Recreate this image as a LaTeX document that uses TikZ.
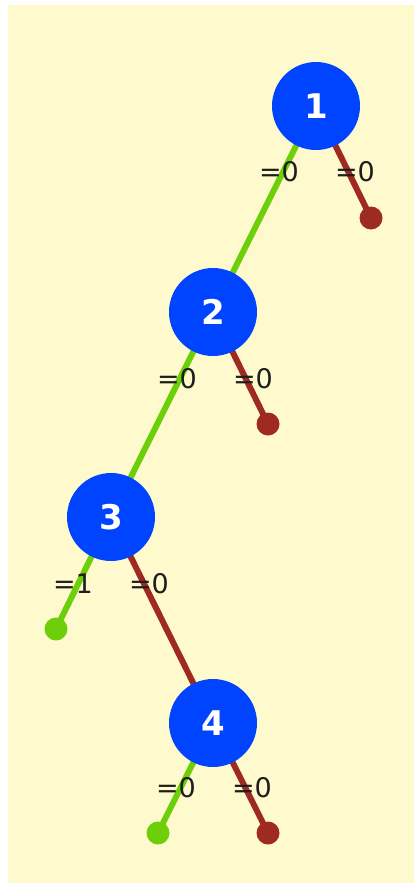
\documentclass[tikz,border=0pt]{standalone}
\usepackage{fontspec}
\setmainfont{DejaVu Sans}
\definecolor{bgyellow}{HTML}{FEFACD}
\definecolor{nodeblue}{HTML}{0044FF}
\definecolor{edgegreen}{HTML}{6CCF0A}
\definecolor{edgered}{HTML}{9E2A22}
\definecolor{labelgray}{HTML}{1E1E1E}
\tikzset{
  treenode/.style={circle, fill=nodeblue, minimum size=88pt, inner sep=0pt,
    text=white, font=\fontsize{34}{40}\selectfont\bfseries},
  leafdot/.style={circle, minimum size=23pt, inner sep=0pt},
  greenleaf/.style={leafdot, fill=edgegreen},
  redleaf/.style={leafdot, fill=edgered},
  greenedge/.style={draw=edgegreen, line width=6pt},
  rededge/.style={draw=edgered, line width=6pt},
  eqlabel/.style={text=labelgray, inner sep=0pt, font=\fontsize{27}{30}\selectfont}
}
\begin{document}
\begin{tikzpicture}[x=1pt,y=-1pt]
  \useasboundingbox (0,0) rectangle (414,883);
  \fill[white] (0,0) rectangle (414,883);
  \fill[bgyellow] (8,5) rectangle (414,883);

  % coordinates of nodes
  \coordinate (c1) at (316,106);
  \coordinate (c2) at (213,312);
  \coordinate (c3) at (111,517);
  \coordinate (c4) at (213,723);

  % leaves
  \node[redleaf] (l1r) at (371,218) {};
  \node[redleaf] (l2r) at (268,424) {};
  \node[greenleaf] (l3l) at (56,629) {};
  \node[greenleaf] (l4l) at (158,833) {};
  \node[redleaf] (l4r) at (268,833) {};

  % edges
  \draw[greenedge] (c1) -- (c2);
  \draw[greenedge] (c2) -- (c3);
  \draw[rededge] (c3) -- (c4);
  \draw[rededge] (c1) -- (l1r.center);
  \draw[rededge] (c2) -- (l2r.center);
  \draw[greenedge] (c3) -- (l3l.center);
  \draw[greenedge] (c4) -- (l4l.center);
  \draw[rededge] (c4) -- (l4r.center);

  % tree nodes
  \node[treenode] (n1) at (c1) {1};
  \node[treenode] (n2) at (c2) {2};
  \node[treenode] (n3) at (c3) {3};
  \node[treenode] (n4) at (c4) {4};

  % labels
  \node[eqlabel] (a1) at (279,172) {=0};
  \node[eqlabel] (b1) at (355,172) {=0};
  \node[eqlabel] (a2) at (177,379) {=0};
  \node[eqlabel] (b2) at (253,379) {=0};
  \node[eqlabel] (a3) at (73,584) {=1};
  \node[eqlabel] (b3) at (149,584) {=0};
  \node[eqlabel] (a4) at (176,788) {=0};
  \node[eqlabel] (b4) at (252,788) {=0};
\end{tikzpicture}
\end{document}
